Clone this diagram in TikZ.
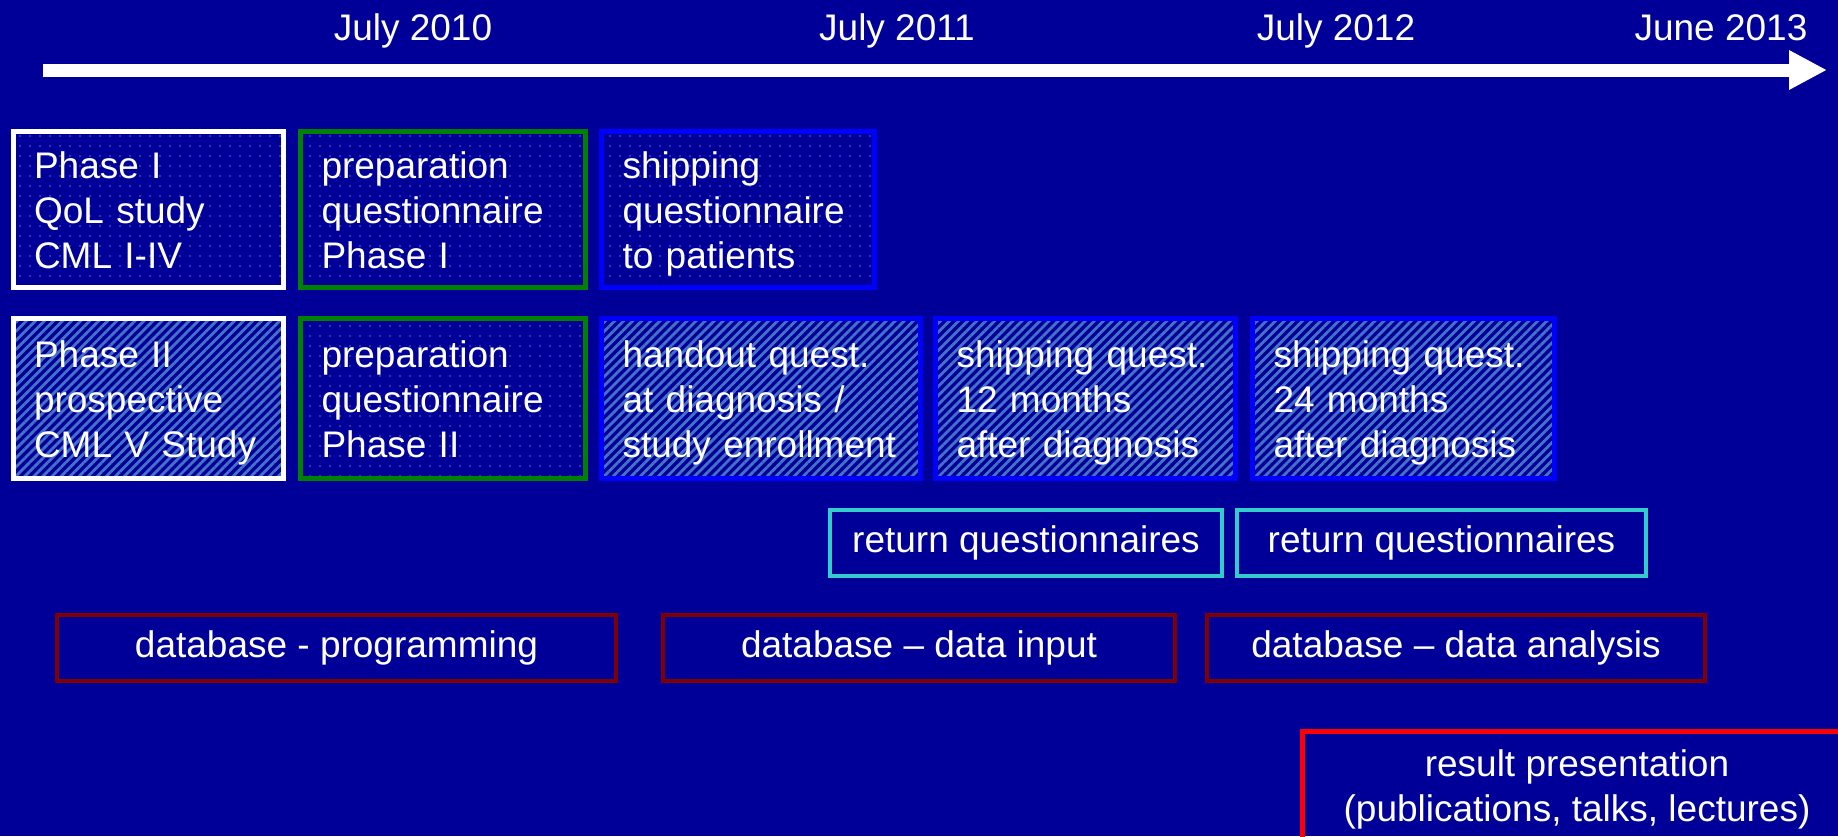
\documentclass[tikz,border=0pt]{standalone}
\usepackage{fontspec}
\setmainfont{Liberation Sans}
\usetikzlibrary{arrows.meta,patterns.meta}
\hyphenpenalty=10000
\exhyphenpenalty=10000
\definecolor{bgblue}{RGB}{0,0,153}
\definecolor{gbox}{RGB}{0,128,0}
\definecolor{bbox}{RGB}{0,0,255}
\definecolor{cbox}{RGB}{51,204,204}
\definecolor{dbox}{RGB}{128,0,0}
\definecolor{rbox}{RGB}{255,0,0}
\definecolor{stripecol}{RGB}{68,114,200}
\definecolor{dotcol}{RGB}{85,105,205}
\begin{document}
\begin{tikzpicture}[x=0.5pt,y=-0.5pt,
  every node/.style={text=white, font=\fontsize{18.5}{22.5}\selectfont},
  phasebox/.style={draw, line width=2.5pt, align=left, inner xsep=10.5pt, inner ysep=0pt, text height=14pt, text depth=45pt},
  onebox/.style={draw, line width=2pt, align=center, inner sep=0pt, minimum height=33pt},
  dotfill/.style={pattern={Dots[distance=5pt,radius=0.45pt]}, pattern color=dotcol},
  hatchfill/.style={pattern={Lines[angle=45,distance=3.2pt,line width=1.4pt]}, pattern color=stripecol},
  datelbl/.style={inner sep=0pt, anchor=base}
]
\useasboundingbox (0,0) rectangle (1838,836);
\fill[bgblue] (0,0) rectangle (1838,836);
\clip (0,0) rectangle (1838,836);

% timeline
\coordinate (tl0) at (43,70);
\coordinate (tl1) at (1827,70);
\draw[white, line width=6.5pt, -{Triangle[length=19pt,width=18.5pt]}] (tl0) -- (tl1);
\node[datelbl] (d10) at (413,40) {July 2010};
\node[datelbl] (d11) at (897,40) {July 2011};
\node[datelbl] (d12) at (1336,40) {July 2012};
\node[datelbl] (d13) at (1721,40) {June 2013};

% row 1
\node[phasebox, dotfill, draw=white, minimum width=135pt, minimum height=78pt, text width=114pt] (p1) at (148,209.5) {Phase I\\QoL study\\CML I-IV};
\node[phasebox, dotfill, draw=gbox, minimum width=142.5pt, minimum height=78pt, text width=121.5pt] (prep1) at (443,209.5) {preparation\\questionnaire\\Phase I};
\node[phasebox, dotfill, draw=bbox, minimum width=136.5pt, minimum height=78pt, text width=115.5pt] (ship1) at (738,209.5) {shipping\\questionnaire\\to patients};

% row 2
\node[phasebox, hatchfill, draw=white, minimum width=135pt, minimum height=80pt, text width=114pt] (p2) at (148,398.5) {Phase II\\prospective\\CML V Study};
\node[phasebox, dotfill, draw=gbox, minimum width=142.5pt, minimum height=80pt, text width=121.5pt] (prep2) at (443,398.5) {preparation\\questionnaire\\Phase II};
\node[phasebox, hatchfill, draw=bbox, minimum width=159.25pt, minimum height=80pt, text width=138.25pt] (hand) at (760.75,398.5) {handout quest.\\at diagnosis /\\study enrollment};
\node[phasebox, hatchfill, draw=bbox, minimum width=150pt, minimum height=80pt, text width=129pt] (s12) at (1085.5,398.5) {shipping quest.\\12 months\\after diagnosis};
\node[phasebox, hatchfill, draw=bbox, minimum width=151pt, minimum height=80pt, text width=130pt] (s24) at (1403.5,398.5) {shipping quest.\\24 months\\after diagnosis};

% return questionnaires
\node[onebox, draw=cbox, minimum width=196pt] (ret1) at (1026,543) {return questionnaires};
\node[onebox, draw=cbox, minimum width=204.5pt] (ret2) at (1441.5,543) {return questionnaires};

% database
\node[onebox, draw=dbox, minimum width=279.5pt] (db1) at (336.5,648) {database - programming};
\node[onebox, draw=dbox, minimum width=256pt] (db2) at (919,648) {database -- data input};
\node[onebox, draw=dbox, minimum width=249pt] (db3) at (1456,648) {database -- data analysis};

% results
\node[draw=rbox, line width=2.5pt, anchor=north west, minimum width=400pt, minimum height=100pt, inner sep=0pt] (resbox) at (1300,728.5) {};
\node[align=center, inner sep=0pt] (restext) at (1577,789) {result presentation\\(publications, talks, lectures)};
\end{tikzpicture}
\end{document}
